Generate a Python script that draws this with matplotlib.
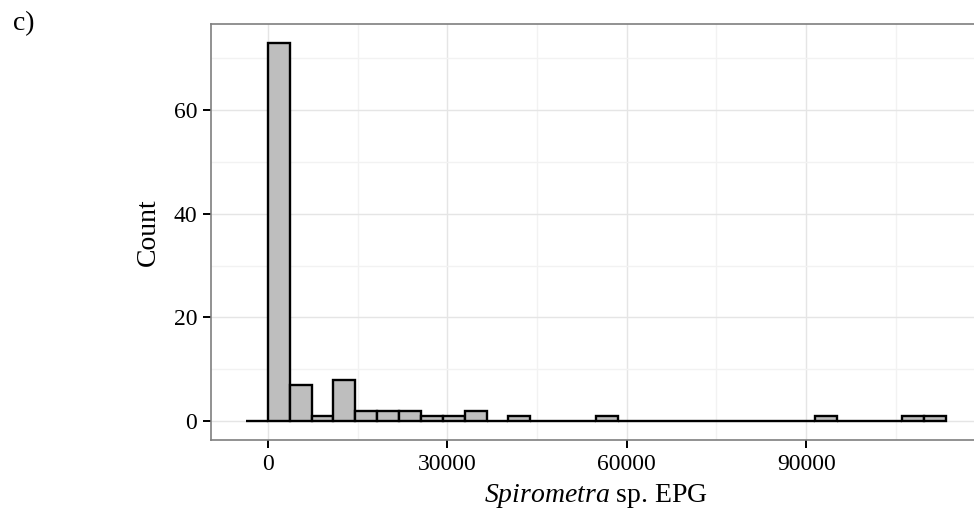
import numpy as np
import matplotlib
matplotlib.use('Agg')
import matplotlib.pyplot as plt

plt.rcParams['font.family'] = ['Liberation Serif', 'DejaVu Serif']
plt.rcParams['mathtext.fontset'] = 'custom'
plt.rcParams['mathtext.rm'] = 'Liberation Serif'
plt.rcParams['mathtext.it'] = 'Liberation Serif:italic'

# histogram counts, one per bin, first bin starts one width below zero
bin_width = 3657
first_edge = -3657
counts = [0, 73, 7, 1, 8, 2, 2, 2, 1, 1, 2, 0, 1, 0, 0, 0, 1,
          0, 0, 0, 0, 0, 0, 0, 0, 0, 1, 0, 0, 0, 1, 1]
x_ticks = [0, 30000, 60000, 90000]
x_minor = [15000, 45000, 75000, 105000]
y_ticks = [0, 20, 40, 60]
y_minor = [10, 30, 50, 70]

left_edges = first_edge + bin_width * np.arange(len(counts))
x_min = left_edges[0]
x_max = left_edges[-1] + bin_width
x_pad = 0.05 * (x_max - x_min)
y_pad = 0.05 * max(counts)

fig = plt.figure(figsize=(9.74, 5.13), dpi=100)
ax = fig.add_axes([0.2166, 0.1423, 0.7906, 0.811])

ax.bar(left_edges, counts, width=bin_width, align='edge',
       color='#BEBEBE', edgecolor='black', linewidth=1.7, zorder=3)

ax.set_xlim(x_min - x_pad, x_max + x_pad)
ax.set_ylim(-y_pad, max(counts) + y_pad)
ax.set_xticks(x_ticks)
ax.set_yticks(y_ticks)
ax.set_xticks(x_minor, minor=True)
ax.set_yticks(y_minor, minor=True)

ax.grid(True, which='major', color='#E5E5E5', linewidth=1.0, zorder=0)
ax.grid(True, which='minor', color='#F2F2F2', linewidth=1.0, zorder=0)
ax.set_axisbelow(True)
ax.tick_params(which='minor', length=0)
ax.tick_params(which='major', length=6, width=1.4, color='black',
               labelsize=17, labelcolor='black', pad=4)

for sp in ax.spines.values():
    sp.set_color('#7F7F7F')
    sp.set_linewidth(1.2)

ax.set_xlabel(r'$\mathit{Spirometra}$ sp. EPG', fontsize=20, labelpad=5)
ax.set_ylabel('Count', fontsize=20, labelpad=9)

fig.text(0.013, 0.978, 'c)', fontsize=20, ha='left', va='top')

fig.savefig('out.png', dpi=100)
